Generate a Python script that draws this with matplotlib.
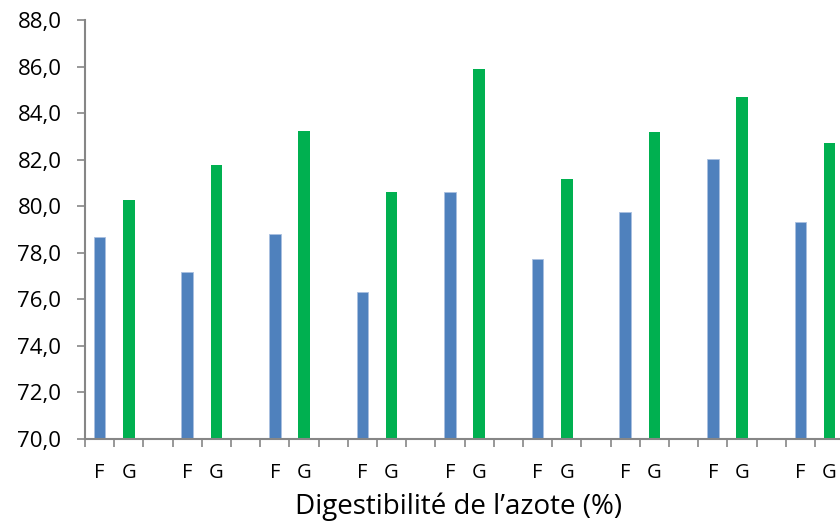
import matplotlib
matplotlib.use("Agg")
import matplotlib.pyplot as plt
import numpy as np

plt.rcParams['font.family'] = ['Open Sans', 'DejaVu Sans']

# nitrogen digestibility, F and G per pair
f_values = [78.69, 77.16, 78.80, 76.30, 80.63, 77.72, 79.75, 82.03, 79.31]
g_values = [80.27, 81.77, 83.24, 80.61, 85.90, 81.17, 83.20, 84.70, 82.72]
pair_labels = ["F", "G", ""]
y_ticks = np.arange(70, 88.1, 2)

blue = "#4F81BD"
green = "#00B050"
axis_gray = "#868686"

fig = plt.figure(figsize=(8.4, 5.22), dpi=100)
n_cats = 3 * len(f_values)
ax = fig.add_axes([85 / 840, 83 / 522, n_cats * 29.2 / 840, 419 / 522])

x_f = np.arange(len(f_values)) * 3
x_g = x_f + 1
ax.bar(x_f, np.array(f_values) - 70, bottom=70, width=0.4, color=blue,
       edgecolor="#A9C0E0", linewidth=0.6, zorder=2)
ax.bar(x_g, np.array(g_values) - 70, bottom=70, width=0.4, color=green,
       linewidth=0, zorder=2)

ax.set_ylim(70, 88)
ax.set_xlim(-0.5, n_cats - 0.5)
ax.set_yticks(y_ticks)
ax.set_yticklabels([f"{v:.1f}".replace(".", ",") for v in y_ticks], fontsize=16)

# category boundaries get the ticks, labels sit in the middle
ax.set_xticks(np.arange(-0.5, n_cats, 1))
ax.set_xticklabels([])
ax.set_xticks(np.arange(n_cats), minor=True)
ax.set_xticklabels(pair_labels * len(f_values), minor=True, fontsize=14.5)
ax.tick_params(axis="x", which="minor", length=0, pad=17)
ax.tick_params(axis="x", which="major", direction="out", length=6,
               width=1.2, color=axis_gray)
ax.tick_params(axis="y", direction="out", length=6, width=1.2,
               color=axis_gray, pad=11)

for side in ["top", "right"]:
    ax.spines[side].set_visible(False)
for side in ["left", "bottom"]:
    ax.spines[side].set_color(axis_gray)
    ax.spines[side].set_linewidth(1.5)

fig.text(459 / 840, 1 - 514 / 522, "Digestibilité de l’azote (%)",
         fontsize=20, ha="center", va="baseline")

fig.savefig("out.png", dpi=100)
